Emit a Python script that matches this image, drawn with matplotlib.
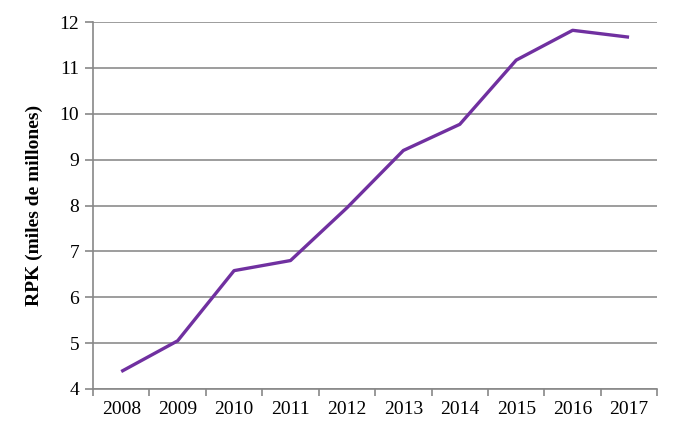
import numpy as np
import matplotlib.pyplot as plt

years = ["2008", "2009", "2010", "2011", "2012", "2013", "2014", "2015", "2016", "2017"]
rpk = [4.38, 5.05, 6.58, 6.80, 7.95, 9.20, 9.77, 11.17, 11.82, 11.67]

plt.rcParams['font.family'] = ['Liberation Serif', 'DejaVu Serif']

fig = plt.figure(figsize=(6.79, 4.41), dpi=100)
ax = fig.add_axes([0.137, 0.118, 0.831, 0.832])

x = np.arange(len(years))
ax.plot(x, rpk, color='#7030A0', lw=2.4, solid_capstyle='butt')

ax.set_xlim(-0.5, len(years) - 0.5)
ax.set_ylim(4, 12)
ax.set_yticks(range(4, 13))
ax.set_xticks(x)
ax.set_xticklabels(years)
ax.set_xticks(np.arange(-0.5, len(years)), minor=True)
ax.tick_params(axis='x', which='major', length=0, pad=9, labelsize=14)
ax.tick_params(axis='x', which='minor', length=5, width=1.2, color='#888888')
ax.tick_params(axis='y', length=6, width=1.2, color='#888888', labelsize=14, pad=4)

ax.grid(axis='y', color='#8c8c8c', lw=1.2)
ax.set_axisbelow(True)
for s in ['top', 'right']:
    ax.spines[s].set_visible(False)
for s in ['left', 'bottom']:
    ax.spines[s].set_color('#888888')
    ax.spines[s].set_linewidth(1.2)

ax.set_ylabel('RPK (miles de millones)', fontsize=14, fontweight='bold', labelpad=12)

fig.savefig('out.png', dpi=100)
